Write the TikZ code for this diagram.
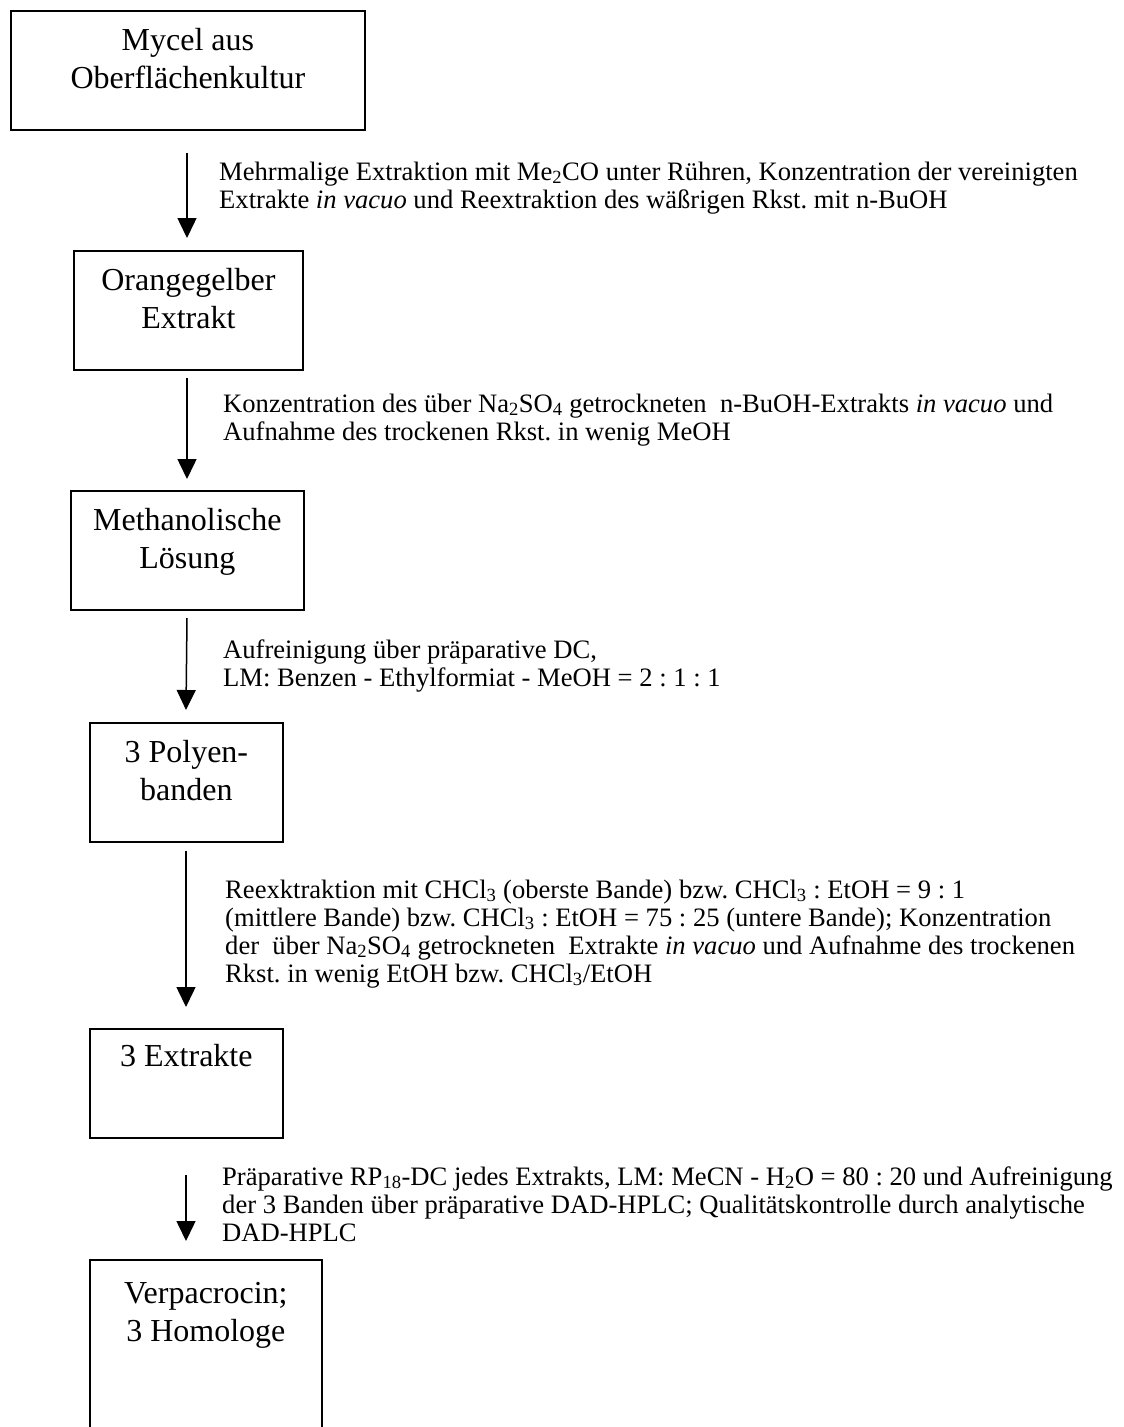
\documentclass[tikz,border=0pt]{standalone}
\usepackage{fontspec}
\setmainfont{Liberation Serif}
\usetikzlibrary{arrows.meta}
\frenchspacing

\begin{document}
\begin{tikzpicture}[x=1pt, y=-1pt,
	box/.style={draw, line width=1.7pt, inner sep=0pt, align=center, anchor=north west, font=\fontsize{32}{38}\selectfont},
	note/.style={inner sep=0pt, align=left, anchor=base west, font=\fontsize{26.6}{28}\selectfont},
	flow/.style={line width=1.5pt, -{Triangle[width=19pt,length=20pt]}}]
			% Page size
			\useasboundingbox (0,0) rectangle (1124,1427);

			% Boxes of the work-up (text height = baseline of last line)
			\node[box, minimum width=354pt, text height=78pt, text depth=41pt] (mycel) at (10,10) {Mycel aus\\Oberflächenkultur};
			\node[box, minimum width=229pt, text height=78pt, text depth=41pt] (extrakt) at (73,250) {Orangegelber\\Extrakt};
			\node[box, minimum width=233pt, text height=78pt, text depth=41pt] (loesung) at (70,490) {Methanolische\\Lösung};
			\node[box, minimum width=193pt, text height=78pt, text depth=41pt] (banden) at (89,722) {3 Polyen-\\banden};
			\node[box, minimum width=193pt, text height=38pt, text depth=71pt] (extrakte) at (89,1028) {3 Extrakte};
			\node[box, minimum width=232pt, text height=82pt, text depth=99pt] (verpa) at (89,1259) {Verpacrocin;\\3 Homologe};

			% Arrows (free ends)
			\coordinate (a1) at (187,153);  \coordinate (b1) at (187,238);
			\coordinate (a2) at (187,378);  \coordinate (b2) at (187,479);
			\coordinate (a3) at (187,618);  \coordinate (b3) at (186,710);
			\coordinate (a4) at (186,851);  \coordinate (b4) at (186,1007);
			\coordinate (a5) at (186,1175); \coordinate (b5) at (186,1241);
			\draw[flow] (a1) -- (b1);
			\draw[flow] (a2) -- (b2);
			\draw[flow] (a3) -- (b3);
			\draw[flow] (a4) -- (b4);
			\draw[flow] (a5) -- (b5);

			% Step descriptions (placed at the baseline of the last line)
			\node[note] (t1) at (219,208) {Mehrmalige Extraktion mit Me\textsubscript{2}CO unter Rühren, Konzentration der vereinigten\\Extrakte \textit{in vacuo} und Reextraktion des wäßrigen Rkst. mit n-BuOH};
			\node[note] (t2) at (223,440) {Konzentration des über Na\textsubscript{2}SO\textsubscript{4} getrockneten\ \ n-BuOH-Extrakts \textit{in vacuo} und\\Aufnahme des trockenen Rkst. in wenig MeOH};
			\node[note] (t3) at (223,686) {Aufreinigung über präparative DC,\\LM: Benzen - Ethylformiat - MeOH = 2 : 1 : 1};
			\node[note] (t4) at (225,982) {Reexktraktion mit CHCl\textsubscript{3} (oberste Bande) bzw. CHCl\textsubscript{3} : EtOH = 9 : 1\\(mittlere Bande) bzw. CHCl\textsubscript{3} : EtOH = 75 : 25 (untere Bande); Konzentration\\der\ \ über Na\textsubscript{2}SO\textsubscript{4} getrockneten\ \ Extrakte \textit{in vacuo} und Aufnahme des trockenen\\Rkst. in wenig EtOH bzw. CHCl\textsubscript{3}/EtOH};
			\node[note] (t5) at (222,1241) {Präparative RP\textsubscript{18}-DC jedes Extrakts, LM: MeCN - H\textsubscript{2}O = 80 : 20 und Aufreinigung\\der 3 Banden über präparative DAD-HPLC; Qualitätskontrolle durch analytische\\DAD-HPLC};
		\end{tikzpicture}
\end{document}
